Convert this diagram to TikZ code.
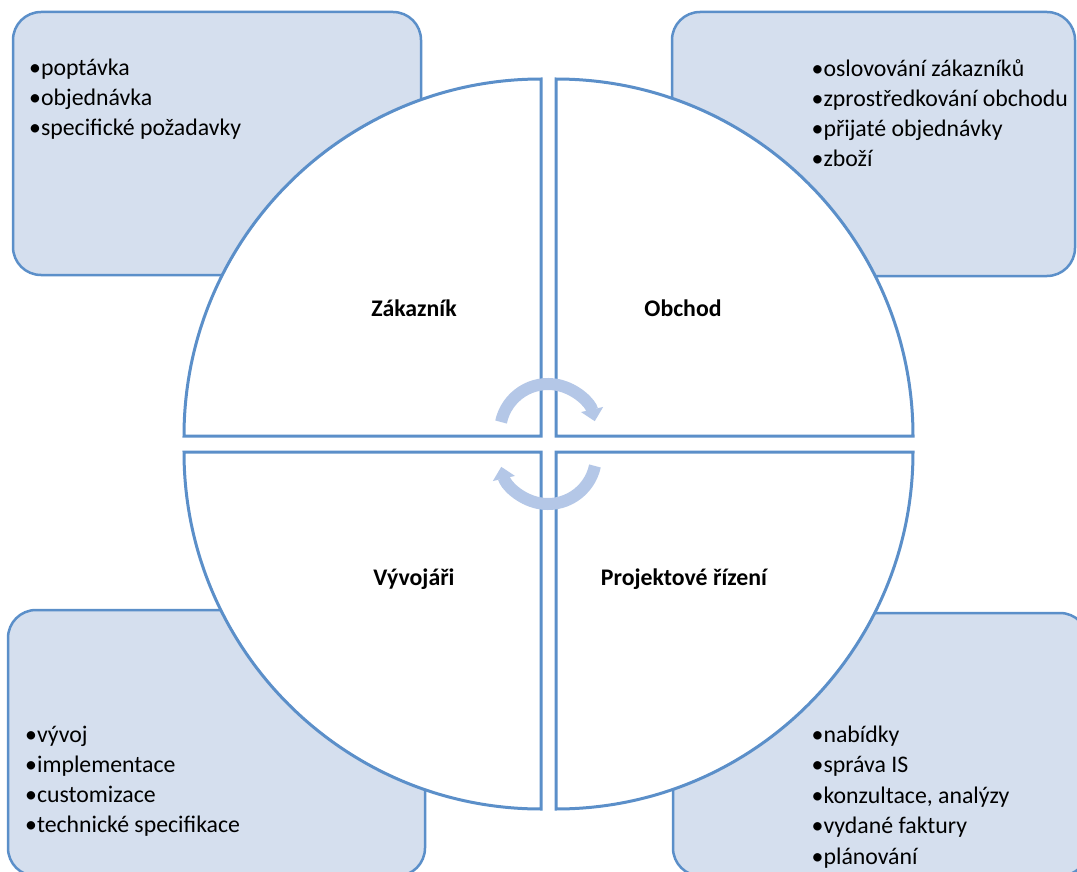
\documentclass[tikz,border=0pt]{standalone}
\usepackage{fontspec}
\setmainfont{Carlito}
\usetikzlibrary{arrows.meta}
\definecolor{edgeblue}{HTML}{5B8FC9}
\definecolor{boxfill}{HTML}{D5DFEE}
\definecolor{arrowblue}{HTML}{B4C7E7}
\begin{document}
\begin{tikzpicture}[x=1pt,y=1pt,
  cornerbox/.style={draw=edgeblue,fill=boxfill,line width=2.5pt,rounded corners=28pt},
  quarter/.style={draw=edgeblue,fill=white,line width=3pt,line join=miter},
  itemtext/.style={anchor=base west,inner sep=0pt,font=\fontsize{23.8}{28}\selectfont},
  labeltext/.style={anchor=base,inner sep=0pt,font=\bfseries\fontsize{23.8}{28}\selectfont},
  cyclearrow/.style={draw=arrowblue,line width=12pt,-{Triangle[width=22pt,length=12pt]}}
]
\useasboundingbox (0,0) rectangle (1077,-872);
% corner boxes
\draw[cornerbox] (13,-12) rectangle (421,-275);
\draw[cornerbox] (672,-12) rectangle (1075,-276);
\draw[cornerbox] (8,-610) rectangle (425,-876);
\draw[cornerbox] (673,-613) rectangle (1088,-876);
% quarter circles
\draw[quarter] (541,-436) -- (184,-436) arc[start angle=180,end angle=90,radius=357] -- cycle;
\draw[quarter] (556,-436) -- (556,-79) arc[start angle=90,end angle=0,radius=357] -- cycle;
\draw[quarter] (541,-452) -- (541,-809) arc[start angle=270,end angle=180,radius=357] -- cycle;
\draw[quarter] (556,-452) -- (913,-452) arc[start angle=0,end angle=-90,radius=357] -- cycle;
% cycle arrows
\coordinate (ca1) at (548,-432);
\coordinate (ca2) at (548,-456);
\draw[cyclearrow] ([shift={(168:48)}]ca1) arc[start angle=168,end angle=13,radius=48];
\draw[cyclearrow] ([shift={(-12:48)}]ca2) arc[start angle=-12,end angle=-167,radius=48];
% labels
\node[labeltext] (zak) at (414,-316.7) {Zákazník};
\node[labeltext] (obc) at (683,-316.7) {Obchod};
\node[labeltext] (vyv) at (414,-585.7) {Vývojáři};
\node[labeltext] (prj) at (684,-585.7) {Projektové řízení};
% lists
\node[itemtext] (tl1) at (29,-76) {•poptávka};
\node[itemtext] (tl2) at (29,-106) {•objednávka};
\node[itemtext] (tl3) at (29,-136) {•specifické požadavky};
\node[itemtext] (tr1) at (811.5,-77) {•oslovování zákazníků};
\node[itemtext] (tr2) at (811.5,-107) {•zprostředkování obchodu};
\node[itemtext] (tr3) at (811.5,-137) {•přijaté objednávky};
\node[itemtext] (tr4) at (811.5,-167) {•zboží};
\node[itemtext] (bl1) at (25,-742) {•vývoj};
\node[itemtext] (bl2) at (25,-772) {•implementace};
\node[itemtext] (bl3) at (25,-802.5) {•customizace};
\node[itemtext] (bl4) at (25,-832.5) {•technické specifikace};
\node[itemtext] (br1) at (811.5,-742) {•nabídky};
\node[itemtext] (br2) at (811.5,-772.7) {•správa IS};
\node[itemtext] (br3) at (811.5,-803.3) {•konzultace, analýzy};
\node[itemtext] (br4) at (811.5,-833.3) {•vydané faktury};
\node[itemtext] (br5) at (811.5,-864) {•plánování};
\end{tikzpicture}
\end{document}
